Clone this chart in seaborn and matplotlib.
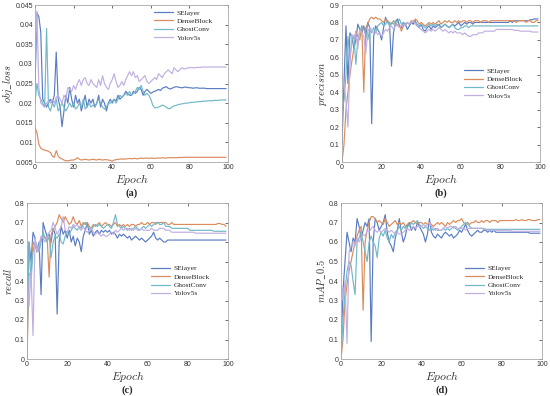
import numpy as np
import pandas as pd
import matplotlib
matplotlib.use("Agg")
import matplotlib.pyplot as plt
import seaborn as sns

# epochs and series names
epochs = list(range(100))
models = ["SElayer", "DenseBlock", "GhostConv", "Yolov5s"]
colors = ["#5a7cc2", "#da8c5e", "#72b8c8", "#c0afe0"]

# (a) obj_loss
a_se = [0.024, 0.043, 0.042, 0.038, 0.021, 0.020, 0.019, 0.020, 0.021, 0.020,
        0.022, 0.033, 0.021, 0.019, 0.014, 0.018, 0.022, 0.020, 0.024, 0.021,
        0.019, 0.022, 0.020, 0.021, 0.018, 0.020, 0.022, 0.019, 0.021, 0.020,
        0.021, 0.019, 0.020, 0.022, 0.019, 0.021, 0.020, 0.018, 0.020, 0.021,
        0.020, 0.021, 0.0205, 0.022, 0.021, 0.0215, 0.022, 0.023, 0.0225, 0.022,
        0.022, 0.023, 0.0225, 0.023, 0.024, 0.0235, 0.022, 0.023, 0.0235, 0.023,
        0.0225, 0.0228, 0.023, 0.0232, 0.0235, 0.0232, 0.0238, 0.024, 0.0242, 0.0238,
        0.0236, 0.0238, 0.024, 0.0242, 0.0241, 0.024, 0.0239, 0.024, 0.0241, 0.024,
        0.0239, 0.0239, 0.0238, 0.0239, 0.0239, 0.0238, 0.0238, 0.0238, 0.0238, 0.0237,
        0.0237, 0.0237, 0.0237, 0.0237, 0.0237, 0.0237, 0.0237, 0.0237, 0.0237, 0.0237]
a_dense = [0.0138, 0.0125, 0.0095, 0.0085, 0.0082, 0.008, 0.0079, 0.0077, 0.0074, 0.0065,
           0.0062, 0.0079, 0.0065, 0.0060, 0.0058, 0.0055, 0.0053, 0.0053, 0.0054, 0.0055,
           0.0055, 0.0057, 0.0061, 0.0057, 0.0055, 0.0056, 0.0057, 0.0056, 0.0055, 0.0056,
           0.0057, 0.0056, 0.0055, 0.0057, 0.0056, 0.0055, 0.0056, 0.0056, 0.0055, 0.0054,
           0.0052, 0.0055, 0.0056, 0.0057, 0.0057, 0.0058, 0.0057, 0.0058, 0.0058, 0.0059,
           0.0058, 0.0059, 0.0059, 0.0058, 0.0059, 0.0060, 0.0059, 0.0060, 0.0060, 0.0059,
           0.0060, 0.0060, 0.0059, 0.0060, 0.0060, 0.0060, 0.0061, 0.0060, 0.0060, 0.0061,
           0.0061, 0.0061, 0.0061, 0.0061, 0.0061, 0.0062, 0.0061, 0.0062, 0.0062, 0.0062,
           0.0062, 0.0062, 0.0062, 0.0062, 0.0062, 0.0062, 0.0062, 0.0062, 0.0062, 0.0062,
           0.0062, 0.0062, 0.0062, 0.0062, 0.0062, 0.0062, 0.0062, 0.0062, 0.0062, 0.0062]
a_ghost = [0.020, 0.025, 0.022, 0.021, 0.020, 0.019, 0.039, 0.019, 0.018, 0.020,
           0.019, 0.021, 0.018, 0.019, 0.020, 0.019, 0.018, 0.019, 0.020, 0.019,
           0.020, 0.0185, 0.019, 0.020, 0.019, 0.021, 0.0185, 0.019, 0.020, 0.019,
           0.0195, 0.019, 0.020, 0.021, 0.020, 0.019, 0.0185, 0.019, 0.020, 0.020,
           0.0205, 0.021, 0.020, 0.021, 0.022, 0.0215, 0.022, 0.0225, 0.022, 0.023,
           0.022, 0.0225, 0.023, 0.024, 0.0235, 0.0245, 0.023, 0.022, 0.0225, 0.022,
           0.021, 0.0195, 0.0188, 0.0188, 0.019, 0.0192, 0.0195, 0.0193, 0.019, 0.0186,
           0.0186, 0.019, 0.0193, 0.0194, 0.0196, 0.0197, 0.0198, 0.0199, 0.020, 0.020,
           0.0201, 0.0202, 0.0202, 0.0203, 0.0203, 0.0204, 0.0204, 0.0205, 0.0205, 0.0205,
           0.0206, 0.0206, 0.0206, 0.0207, 0.0207, 0.0207, 0.0208, 0.0208, 0.0208, 0.0208]
a_yolo = [0.030, 0.0435, 0.024, 0.020, 0.0195, 0.019, 0.020, 0.0205, 0.020, 0.021,
          0.020, 0.0215, 0.022, 0.021, 0.020, 0.022, 0.021, 0.024, 0.0235, 0.023,
          0.0245, 0.0235, 0.025, 0.026, 0.0245, 0.026, 0.0265, 0.025, 0.0245, 0.026,
          0.025, 0.0245, 0.024, 0.026, 0.0245, 0.027, 0.025, 0.024, 0.0235, 0.025,
          0.026, 0.0275, 0.0255, 0.024, 0.0245, 0.0255, 0.0245, 0.026, 0.027, 0.028,
          0.027, 0.028, 0.0265, 0.027, 0.0255, 0.026, 0.0265, 0.027, 0.0255, 0.025,
          0.0255, 0.026, 0.0265, 0.026, 0.0275, 0.027, 0.0265, 0.0275, 0.028, 0.0285,
          0.028, 0.0275, 0.029, 0.0285, 0.028, 0.0285, 0.029, 0.0288, 0.0287, 0.029,
          0.029, 0.0291, 0.029, 0.029, 0.0291, 0.0291, 0.0291, 0.0292, 0.0292, 0.0292,
          0.0292, 0.0292, 0.0292, 0.0292, 0.0292, 0.0292, 0.0292, 0.0292, 0.0292, 0.0292]

# (b) precision
b_se = [0.10, 0.45, 0.78, 0.45, 0.74, 0.72, 0.65, 0.70, 0.79, 0.76,
        0.74, 0.78, 0.72, 0.80, 0.77, 0.22, 0.72, 0.78, 0.76, 0.74,
        0.70, 0.77, 0.83, 0.80, 0.79, 0.55, 0.74, 0.80, 0.82, 0.78,
        0.77, 0.80, 0.79, 0.76, 0.78, 0.80, 0.79, 0.81, 0.78, 0.77,
        0.79, 0.76, 0.75, 0.77, 0.78, 0.76, 0.78, 0.77, 0.78, 0.79,
        0.77, 0.78, 0.79, 0.78, 0.77, 0.78, 0.79, 0.78, 0.79, 0.80,
        0.78, 0.79, 0.80, 0.79, 0.80, 0.80, 0.79, 0.80, 0.80, 0.80,
        0.80, 0.80, 0.80, 0.80, 0.80, 0.80, 0.80, 0.80, 0.80, 0.80,
        0.80, 0.80, 0.80, 0.80, 0.80, 0.81, 0.80, 0.81, 0.81, 0.81,
        0.81, 0.81, 0.81, 0.81, 0.81, 0.815, 0.815, 0.82, 0.82, 0.82]
b_dense = [0.00, 0.10, 0.30, 0.40, 0.50, 0.58, 0.65, 0.75, 0.72, 0.70,
           0.78, 0.40, 0.77, 0.79, 0.82, 0.83, 0.82, 0.83, 0.82, 0.82,
           0.81, 0.80, 0.82, 0.81, 0.80, 0.79, 0.81, 0.80, 0.78, 0.79,
           0.75, 0.78, 0.79, 0.80, 0.79, 0.81, 0.80, 0.82, 0.81, 0.79,
           0.80, 0.79, 0.78, 0.79, 0.80, 0.79, 0.80, 0.79, 0.80, 0.81,
           0.79, 0.80, 0.81, 0.80, 0.81, 0.80, 0.80, 0.81, 0.80, 0.81,
           0.80, 0.81, 0.81, 0.80, 0.81, 0.81, 0.80, 0.81, 0.81, 0.81,
           0.80, 0.81, 0.81, 0.81, 0.80, 0.81, 0.81, 0.81, 0.81, 0.81,
           0.81, 0.81, 0.81, 0.81, 0.81, 0.81, 0.81, 0.81, 0.80, 0.81,
           0.81, 0.81, 0.81, 0.80, 0.81, 0.81, 0.80, 0.80, 0.81, 0.81]
b_ghost = [0.30, 0.35, 0.50, 0.72, 0.60, 0.70, 0.72, 0.56, 0.70, 0.75,
           0.78, 0.76, 0.74, 0.70, 0.76, 0.74, 0.77, 0.74, 0.78, 0.79,
           0.80, 0.78, 0.79, 0.81, 0.78, 0.80, 0.79, 0.81, 0.80, 0.82,
           0.79, 0.80, 0.78, 0.80, 0.79, 0.80, 0.81, 0.80, 0.79, 0.78,
           0.79, 0.78, 0.77, 0.78, 0.79, 0.78, 0.79, 0.78, 0.79, 0.78,
           0.77, 0.78, 0.79, 0.78, 0.77, 0.78, 0.79, 0.77, 0.76, 0.76,
           0.77, 0.77, 0.78, 0.78, 0.77, 0.78, 0.78, 0.78, 0.78, 0.78,
           0.78, 0.78, 0.78, 0.78, 0.78, 0.78, 0.78, 0.78, 0.78, 0.78,
           0.78, 0.78, 0.78, 0.78, 0.78, 0.78, 0.78, 0.78, 0.78, 0.78,
           0.78, 0.78, 0.78, 0.78, 0.78, 0.78, 0.78, 0.78, 0.78, 0.78]
b_yolo = [0.50, 0.45, 0.35, 0.20, 0.55, 0.73, 0.72, 0.74, 0.65, 0.76,
          0.74, 0.72, 0.62, 0.75, 0.77, 0.76, 0.74, 0.75, 0.73, 0.74,
          0.72, 0.74, 0.76, 0.75, 0.77, 0.78, 0.76, 0.78, 0.79, 0.77,
          0.78, 0.79, 0.78, 0.80, 0.79, 0.80, 0.81, 0.79, 0.78, 0.77,
          0.76, 0.75, 0.74, 0.75, 0.76, 0.75, 0.76, 0.75, 0.76, 0.77,
          0.76, 0.75, 0.76, 0.75, 0.74, 0.75, 0.74, 0.75, 0.74, 0.74,
          0.74, 0.73, 0.74, 0.73, 0.72, 0.72, 0.73, 0.73, 0.73, 0.74,
          0.74, 0.74, 0.75, 0.75, 0.75, 0.75, 0.75, 0.75, 0.76, 0.76,
          0.76, 0.76, 0.76, 0.76, 0.76, 0.76, 0.76, 0.755, 0.755, 0.755,
          0.75, 0.75, 0.75, 0.75, 0.75, 0.75, 0.745, 0.745, 0.745, 0.745]

# (c) recall
c_se = [0.35, 0.60, 0.50, 0.65, 0.62, 0.55, 0.60, 0.33, 0.70, 0.66,
        0.63, 0.64, 0.60, 0.67, 0.64, 0.23, 0.60, 0.68, 0.64, 0.66,
        0.62, 0.66, 0.60, 0.63, 0.58, 0.62, 0.60, 0.55, 0.63, 0.66,
        0.70, 0.64, 0.66, 0.63, 0.65, 0.66, 0.64, 0.66, 0.65, 0.66,
        0.65, 0.66, 0.64, 0.65, 0.64, 0.62, 0.64, 0.63, 0.64, 0.63,
        0.62, 0.63, 0.61, 0.62, 0.63, 0.62, 0.61, 0.62, 0.61, 0.60,
        0.61, 0.62, 0.63, 0.65, 0.62, 0.61, 0.62, 0.61, 0.60, 0.60,
        0.61, 0.61, 0.61, 0.61, 0.61, 0.61, 0.61, 0.61, 0.61, 0.61,
        0.61, 0.61, 0.61, 0.61, 0.61, 0.61, 0.61, 0.61, 0.61, 0.61,
        0.61, 0.61, 0.61, 0.61, 0.61, 0.61, 0.61, 0.61, 0.61, 0.61]
c_dense = [0.00, 0.43, 0.45, 0.60, 0.58, 0.55, 0.58, 0.62, 0.63, 0.62,
           0.63, 0.42, 0.64, 0.66, 0.68, 0.70, 0.74, 0.72, 0.70, 0.73,
           0.71, 0.69, 0.70, 0.73, 0.70, 0.69, 0.71, 0.68, 0.70, 0.69,
           0.70, 0.68, 0.67, 0.69, 0.68, 0.69, 0.70, 0.68, 0.69, 0.70,
           0.69, 0.69, 0.68, 0.69, 0.70, 0.68, 0.69, 0.68, 0.69, 0.68,
           0.69, 0.68, 0.69, 0.69, 0.68, 0.69, 0.69, 0.70, 0.69, 0.69,
           0.70, 0.69, 0.70, 0.70, 0.69, 0.70, 0.70, 0.70, 0.70, 0.70,
           0.69, 0.69, 0.70, 0.69, 0.69, 0.69, 0.69, 0.69, 0.69, 0.69,
           0.69, 0.69, 0.69, 0.69, 0.69, 0.69, 0.69, 0.69, 0.69, 0.69,
           0.69, 0.69, 0.69, 0.69, 0.69, 0.695, 0.695, 0.69, 0.69, 0.68]
c_ghost = [0.00, 0.60, 0.40, 0.55, 0.60, 0.58, 0.55, 0.60, 0.65, 0.62,
           0.60, 0.63, 0.52, 0.60, 0.63, 0.62, 0.64, 0.60, 0.59, 0.63,
           0.65, 0.64, 0.66, 0.68, 0.67, 0.66, 0.68, 0.67, 0.69, 0.70,
           0.68, 0.67, 0.66, 0.68, 0.69, 0.68, 0.69, 0.68, 0.67, 0.68,
           0.69, 0.68, 0.67, 0.70, 0.74, 0.69, 0.68, 0.67, 0.68, 0.67,
           0.66, 0.67, 0.66, 0.67, 0.68, 0.67, 0.66, 0.67, 0.68, 0.67,
           0.68, 0.69, 0.68, 0.69, 0.70, 0.70, 0.69, 0.69, 0.70, 0.68,
           0.68, 0.68, 0.67, 0.67, 0.67, 0.67, 0.67, 0.67, 0.67, 0.67,
           0.67, 0.66, 0.66, 0.66, 0.66, 0.66, 0.66, 0.66, 0.66, 0.66,
           0.66, 0.66, 0.66, 0.655, 0.655, 0.655, 0.655, 0.655, 0.655, 0.655]
c_yolo = [0.45, 0.27, 0.45, 0.12, 0.62, 0.55, 0.58, 0.63, 0.62, 0.60,
          0.63, 0.65, 0.66, 0.70, 0.67, 0.64, 0.66, 0.68, 0.73, 0.66,
          0.65, 0.68, 0.67, 0.69, 0.68, 0.69, 0.67, 0.66, 0.68, 0.66,
          0.65, 0.66, 0.67, 0.65, 0.64, 0.65, 0.64, 0.63, 0.64, 0.63,
          0.63, 0.64, 0.65, 0.64, 0.66, 0.65, 0.66, 0.67, 0.66, 0.67,
          0.67, 0.66, 0.67, 0.66, 0.67, 0.66, 0.66, 0.67, 0.66, 0.66,
          0.66, 0.66, 0.67, 0.66, 0.66, 0.66, 0.67, 0.67, 0.67, 0.66,
          0.66, 0.66, 0.65, 0.65, 0.65, 0.65, 0.65, 0.65, 0.65, 0.65,
          0.65, 0.65, 0.65, 0.65, 0.645, 0.645, 0.645, 0.645, 0.645, 0.645,
          0.645, 0.645, 0.645, 0.645, 0.645, 0.645, 0.645, 0.645, 0.645, 0.645]

# (d) mAP_0.5
d_se = [0.05, 0.35, 0.50, 0.65, 0.60, 0.55, 0.62, 0.60, 0.72, 0.68,
        0.62, 0.66, 0.70, 0.68, 0.72, 0.09, 0.60, 0.72, 0.70, 0.66,
        0.68, 0.70, 0.74, 0.65, 0.60, 0.58, 0.55, 0.62, 0.66, 0.72,
        0.65, 0.60, 0.63, 0.68, 0.70, 0.66, 0.68, 0.66, 0.70, 0.68,
        0.66, 0.64, 0.60, 0.64, 0.72, 0.65, 0.63, 0.62, 0.64, 0.63,
        0.62, 0.64, 0.65, 0.64, 0.63, 0.64, 0.62, 0.63, 0.64, 0.66,
        0.65, 0.67, 0.69, 0.66, 0.64, 0.63, 0.64, 0.65, 0.66, 0.65,
        0.65, 0.66, 0.66, 0.65, 0.66, 0.65, 0.66, 0.65, 0.65, 0.65,
        0.65, 0.65, 0.65, 0.65, 0.65, 0.65, 0.65, 0.65, 0.65, 0.65,
        0.65, 0.65, 0.65, 0.65, 0.645, 0.645, 0.645, 0.645, 0.645, 0.645]
d_dense = [0.00, 0.10, 0.30, 0.38, 0.45, 0.50, 0.55, 0.60, 0.63, 0.66,
           0.68, 0.25, 0.60, 0.66, 0.70, 0.73, 0.73, 0.72, 0.70, 0.71,
           0.70, 0.69, 0.72, 0.70, 0.68, 0.69, 0.70, 0.71, 0.69, 0.70,
           0.69, 0.70, 0.68, 0.69, 0.70, 0.70, 0.71, 0.70, 0.69, 0.70,
           0.70, 0.69, 0.70, 0.69, 0.70, 0.69, 0.68, 0.69, 0.70, 0.69,
           0.70, 0.69, 0.68, 0.70, 0.69, 0.70, 0.71, 0.70, 0.71, 0.71,
           0.72, 0.70, 0.69, 0.70, 0.69, 0.70, 0.70, 0.71, 0.70, 0.70,
           0.71, 0.70, 0.71, 0.71, 0.70, 0.71, 0.71, 0.71, 0.70, 0.71,
           0.71, 0.71, 0.71, 0.71, 0.71, 0.71, 0.71, 0.715, 0.71, 0.71,
           0.715, 0.71, 0.71, 0.715, 0.715, 0.71, 0.71, 0.71, 0.715, 0.715]
d_ghost = [0.00, 0.20, 0.35, 0.45, 0.50, 0.48, 0.40, 0.33, 0.60, 0.62,
           0.65, 0.60, 0.55, 0.50, 0.60, 0.63, 0.60, 0.58, 0.52, 0.62,
           0.65, 0.63, 0.66, 0.62, 0.60, 0.64, 0.62, 0.65, 0.66, 0.68,
           0.66, 0.68, 0.67, 0.69, 0.68, 0.70, 0.69, 0.70, 0.71, 0.69,
           0.68, 0.67, 0.68, 0.67, 0.66, 0.67, 0.66, 0.67, 0.66, 0.66,
           0.66, 0.67, 0.66, 0.67, 0.66, 0.67, 0.68, 0.67, 0.66, 0.67,
           0.68, 0.69, 0.70, 0.69, 0.68, 0.67, 0.67, 0.67, 0.67, 0.67,
           0.67, 0.67, 0.665, 0.665, 0.665, 0.665, 0.665, 0.665, 0.665, 0.665,
           0.665, 0.665, 0.665, 0.665, 0.665, 0.665, 0.665, 0.665, 0.665, 0.665,
           0.665, 0.665, 0.665, 0.665, 0.665, 0.665, 0.665, 0.665, 0.665, 0.665]
d_yolo = [0.38, 0.30, 0.40, 0.08, 0.55, 0.58, 0.60, 0.58, 0.62, 0.60,
          0.62, 0.64, 0.63, 0.66, 0.65, 0.67, 0.68, 0.66, 0.65, 0.66,
          0.65, 0.66, 0.67, 0.66, 0.65, 0.66, 0.65, 0.64, 0.65, 0.64,
          0.64, 0.65, 0.66, 0.67, 0.66, 0.67, 0.68, 0.67, 0.68, 0.68,
          0.68, 0.69, 0.68, 0.69, 0.70, 0.68, 0.67, 0.66, 0.67, 0.66,
          0.66, 0.67, 0.68, 0.67, 0.68, 0.68, 0.67, 0.68, 0.67, 0.67,
          0.67, 0.67, 0.66, 0.67, 0.67, 0.67, 0.67, 0.67, 0.67, 0.67,
          0.67, 0.665, 0.665, 0.66, 0.66, 0.66, 0.66, 0.66, 0.66, 0.66,
          0.66, 0.66, 0.66, 0.66, 0.66, 0.655, 0.655, 0.655, 0.655, 0.655,
          0.655, 0.655, 0.655, 0.655, 0.655, 0.655, 0.655, 0.655, 0.655, 0.655]

sns.set_theme(style="white")
plt.rcParams["mathtext.fontset"] = "cm"
plt.rcParams["font.family"] = ["Liberation Sans", "DejaVu Sans"]

fig = plt.figure(figsize=(5.5, 3.96), dpi=100)

panels = [
    ([35/550, 1 - 162/396, 193/550, 157/396], [a_se, a_dense, a_ghost, a_yolo],
     r"$obj\_loss$", (0.005, 0.045), np.arange(0.005, 0.0451, 0.005), "(a)", (0.6, 0.99)),
    ([342/550, 1 - 162/396, 198/550, 157/396], [b_se, b_dense, b_ghost, b_yolo],
     r"$precision$", (0, 0.9), np.arange(0, 0.91, 0.1), "(b)", (0.6, 0.62)),
    ([27/550, 1 - 359/396, 201/550, 156/396], [c_se, c_dense, c_ghost, c_yolo],
     r"$recall$", (0, 0.8), np.arange(0, 0.81, 0.1), "(c)", (0.6, 0.62)),
    ([341/550, 1 - 359/396, 201/550, 156/396], [d_se, d_dense, d_ghost, d_yolo],
     r"$mAP\_0.5$", (0, 0.8), np.arange(0, 0.81, 0.1), "(d)", (0.6, 0.62)),
]

for rect, series, ylab, ylim, yticks, tag, legpos in panels:
    ax = fig.add_axes(rect)
    df = pd.DataFrame({m: s for m, s in zip(models, series)})
    df["Epoch"] = epochs
    long = df.melt(id_vars="Epoch", var_name="model", value_name="value")
    sns.lineplot(data=long, x="Epoch", y="value", hue="model", hue_order=models,
                 palette=colors, linewidth=0.85, ax=ax)
    ax.set_xlim(0, 100)
    ax.set_ylim(*ylim)
    ax.set_xticks([0, 20, 40, 60, 80, 100])
    ax.set_yticks(yticks)
    if tag == "(a)":
        ax.set_yticklabels([f"{t:.3f}".rstrip("0") if round(t * 1000) % 10 == 0 else f"{t:.3f}" for t in yticks])
    else:
        ax.set_yticklabels(["0" if t == 0 else f"{t:.1f}" for t in yticks])
    ax.tick_params(direction="in", length=2, width=0.5, labelsize=5, colors="#333333",
                   top=True, right=True, pad=1.5)
    for sp in ax.spines.values():
        sp.set_color("#a8a8a8")
        sp.set_linewidth(0.6)
    ax.set_xlabel(r"$Epoch$", fontsize=8.5, color="#333333", labelpad=1)
    ax.set_ylabel(ylab, fontsize=7.5, color="#333333", labelpad=0.5)
    leg = ax.legend(loc="upper left", bbox_to_anchor=legpos, frameon=False,
                    prop={"family": "Liberation Serif", "size": 5.3},
                    handlelength=2.6, labelspacing=0.3, handletextpad=0.5,
                    borderaxespad=0)
    for line in leg.get_lines():
        line.set_linewidth(0.9)
    x0 = rect[0] + rect[2] / 2
    fig.text(x0, rect[1] - 0.078, tag, ha="center", va="center",
             fontsize=7.5, fontweight="bold", family="Liberation Serif")

fig.savefig("out.png", dpi=100)
